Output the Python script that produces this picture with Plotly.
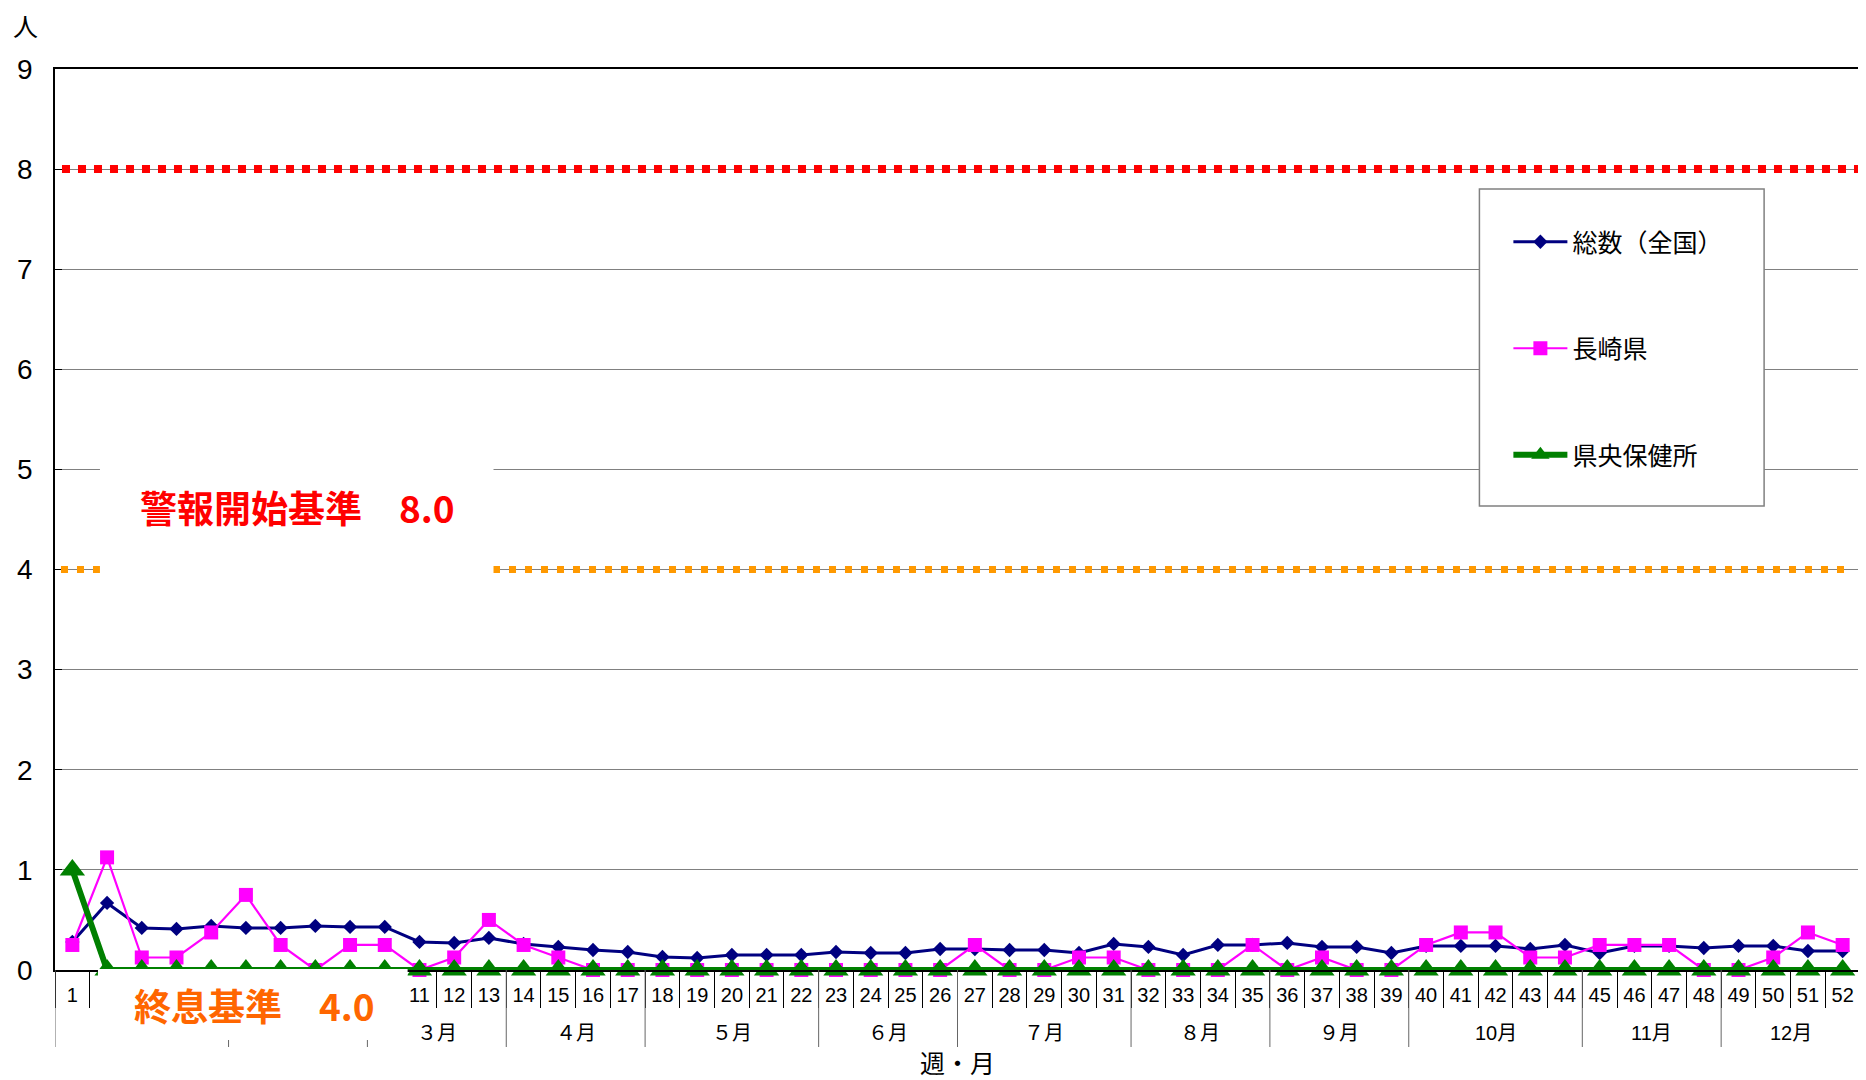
import plotly.graph_objects as go

# ---------------- data ----------------
month_labels = ["１月", "２月", "３月", "４月", "５月", "６月", "７月", "８月", "９月", "10月", "11月", "12月"]
weeks_per_month = [5, 4, 4, 4, 5, 4, 5, 4, 4, 5, 4, 4]
week_labels = [str(w) for w in range(1, 53)]

national_total = [0.28, 0.67, 0.42, 0.41, 0.44, 0.42, 0.42, 0.44, 0.43, 0.43,
                  0.28, 0.27, 0.32, 0.26, 0.23, 0.20, 0.18, 0.13, 0.12, 0.15,
                  0.15, 0.15, 0.18, 0.17, 0.17, 0.21, 0.21, 0.20, 0.20, 0.17,
                  0.26, 0.23, 0.15, 0.25, 0.25, 0.27, 0.23, 0.23, 0.17, 0.24,
                  0.24, 0.24, 0.21, 0.25, 0.17, 0.24, 0.24, 0.22, 0.24, 0.24,
                  0.19, 0.19]
nagasaki = [0.25, 1.125, 0.125, 0.125, 0.375, 0.75, 0.25, 0.0, 0.25, 0.25,
            0.0, 0.125, 0.5, 0.25, 0.125, 0.0, 0.0, 0.0, 0.0, 0.0,
            0.0, 0.0, 0.0, 0.0, 0.0, 0.0, 0.25, 0.0, 0.0, 0.125,
            0.125, 0.0, 0.0, 0.0, 0.25, 0.0, 0.125, 0.0, 0.0, 0.25,
            0.375, 0.375, 0.125, 0.125, 0.25, 0.25, 0.25, 0.0, 0.0, 0.125,
            0.375, 0.25]
kenou = [1.0, 0.0, 0.0, 0.0, 0.0, 0.0, 0.0, 0.0, 0.0, 0.0,
         0.0, 0.0, 0.0, 0.0, 0.0, 0.0, 0.0, 0.0, 0.0, 0.0,
         0.0, 0.0, 0.0, 0.0, 0.0, 0.0, 0.0, 0.0, 0.0, 0.0,
         0.0, 0.0, 0.0, 0.0, 0.0, 0.0, 0.0, 0.0, 0.0, 0.0,
         0.0, 0.0, 0.0, 0.0, 0.0, 0.0, 0.0, 0.0, 0.0, 0.0,
         0.0, 0.0]

alarm_start = 8.0
alarm_end = 4.0

series_names = ["総数（全国）", "長崎県", "県央保健所"]

# labels that sit under the "終息基準" text box in the original (not visible)
hidden_months = ["１月", "２月"]
hidden_weeks = ["2", "3", "4", "5", "6", "7", "8", "9", "10"]
week_ticktext = ["" if w in hidden_weeks else w for w in week_labels]

JP = "Noto Sans CJK JP"
NUM = "Liberation Sans Narrow, Liberation Sans, Noto Sans CJK JP, sans-serif"

fig = go.Figure()
fig.add_trace(go.Scatter(
    x=week_labels, y=national_total, name=series_names[0], legendgroup="a",
    mode="lines+markers", line=dict(color="#000080", width=3), cliponaxis=False,
    marker=dict(symbol="diamond", size=11, color="#000080")))
fig.add_trace(go.Scatter(
    x=week_labels, y=nagasaki, name=series_names[1], legendgroup="b",
    mode="lines+markers", line=dict(color="#FF00FF", width=2.2), cliponaxis=False,
    marker=dict(symbol="square", size=14, color="#FF00FF")))
fig.add_trace(go.Scatter(
    x=week_labels, y=kenou, name=series_names[2], legendgroup="c",
    mode="lines+markers", line=dict(color="#008000", width=6), cliponaxis=False,
    marker=dict(symbol="triangle-up", size=22, color="#008000")))

# page has an 8px body margin: figure placed at (8, 8)
OFF = 8
W, H = 1866 - OFF, 1080 - OFF
PL, PR, PT, PB = 55, 1862, 69, 970          # plot area in page pixels
ml, mr, mt, mb = PL - OFF, OFF + W - PR, PT - OFF, OFF + H - PB
pw = PR - PL
ph = PB - PT


def px_x(p):
    return (p - PL) / pw


def px_y(p):
    return (PB - p) / ph


shapes = []
annotations = []

# month dividers and month labels (second level of the category axis)
start = 0
for m, n in zip(month_labels, weeks_per_month):
    shapes.append(dict(type="line", xref="x", yref="paper", x0=start - 0.5, x1=start - 0.5,
                       y0=0, y1=px_y(1047), layer="above",
                       line=dict(color="#666666", width=1)))
    annotations.append(dict(text=m, xref="x", yref="paper", x=start + (n - 1) / 2, y=px_y(1033),
                            xanchor="center", yanchor="middle", showarrow=False,
                            visible=m not in hidden_months,
                            font=dict(family=NUM, size=20, color="black")))
    start += n
shapes.append(dict(type="line", xref="x", yref="paper", x0=start - 0.5, x1=start - 0.5,
                   y0=0, y1=px_y(1047), layer="above",
                   line=dict(color="#666666", width=1)))

shapes += [
    # threshold lines
    dict(type="line", xref="paper", yref="y", x0=px_x(62), x1=1.0,
         y0=alarm_start, y1=alarm_start, layer="above",
         line=dict(color="#FF0000", width=8, dash="8px,8px")),
    dict(type="line", xref="paper", yref="y", x0=px_x(61), x1=px_x(1848),
         y0=alarm_end, y1=alarm_end, layer="above",
         line=dict(color="#FF9900", width=7, dash="7px,9px")),
    # white text boxes
    dict(type="rect", xref="paper", yref="y", x0=px_x(100), x1=px_x(494),
         y0=3.88, y1=5.15, layer="above", fillcolor="white", line=dict(width=0)),
    dict(type="rect", xref="paper", yref="paper", x0=px_x(98), x1=px_x(408),
         y0=px_y(1040), y1=px_y(969), layer="above", fillcolor="white", line=dict(width=0)),
    # legend box
    dict(type="rect", xref="paper", yref="paper", x0=px_x(1481), x1=px_x(1766),
         y0=px_y(506), y1=px_y(189), layer="above", fillcolor="white",
         line=dict(color="#808080", width=1.5)),
]

annotations += [
    dict(text="警報開始基準　8.0", xref="paper", yref="y", x=px_x(298), y=4.62,
         xanchor="center", yanchor="middle", showarrow=False,
         font=dict(family=JP, size=37, color="#FF0000", weight="bold")),
    dict(text="終息基準　4.0", xref="paper", yref="paper", x=px_x(255), y=px_y(1005),
         xanchor="center", yanchor="middle", showarrow=False,
         font=dict(family=JP, size=37, color="#FF6600", weight="bold")),
    dict(text="人", xref="paper", yref="paper", x=px_x(25), y=px_y(25),
         xanchor="center", yanchor="middle", showarrow=False,
         font=dict(family=JP, size=25, color="black")),
]

fig.update_layout(
    width=W, height=H, autosize=False,
    margin=dict(l=ml, r=mr, t=mt, b=mb, pad=0),
    paper_bgcolor="white", plot_bgcolor="white",
    font=dict(family=JP, color="black"),
    shapes=shapes, annotations=annotations,
    showlegend=True,
    legend=dict(x=px_x(1510), y=px_y(219), xanchor="left", yanchor="top",
                bgcolor="rgba(0,0,0,0)", borderwidth=0,
                font=dict(family=JP, size=25, color="black"),
                itemwidth=54, traceorder="grouped", tracegroupgap=71),
)

fig.update_xaxes(
    type="category", range=[-0.5, 51.5], autorange=False,
    tickmode="array", tickvals=week_labels, ticktext=week_ticktext,
    showline=True, linecolor="black", linewidth=1.5, mirror=True,
    showgrid=False, zeroline=False,
    ticks="outside", tickson="boundaries", ticklen=36, tickcolor="black", tickwidth=1,
    ticklabelstandoff=6,
    tickfont=dict(family=NUM, size=20, color="black"),
    title=dict(text="週・月", font=dict(family=JP, size=25, color="black"), standoff=52),
)
fig.update_yaxes(
    range=[0, 9], dtick=1, tick0=0,
    showline=True, linecolor="black", linewidth=1.5, mirror=True,
    showgrid=True, gridcolor="#808080", gridwidth=1, zeroline=False,
    ticks="inside", ticklen=7, tickcolor="black",
    tickfont=dict(family=NUM, size=28, color="black"),
    ticklabelstandoff=15,
)

fig.write_html("out.html")
